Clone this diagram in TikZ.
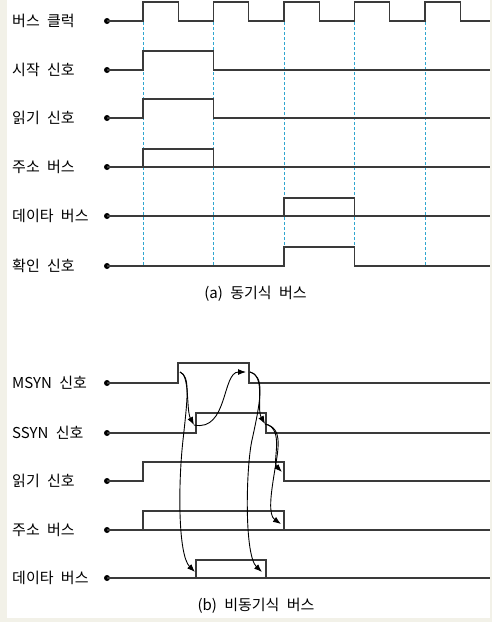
\documentclass[tikz,border=0pt]{standalone}
\usepackage{fontspec}
\setmainfont{Noto Sans CJK KR}[WordSpace=2.2]
\usetikzlibrary{arrows.meta}
\definecolor{wire}{HTML}{3A3A3A}
\definecolor{tick}{HTML}{2FA6D0}
\definecolor{frame}{HTML}{F2F1E8}

\begin{document}
\begin{tikzpicture}[x=1pt,y=-1pt,
    wave/.style={draw=wire,line width=1.1pt,line join=miter},
    pin/.style={circle,fill=black,inner sep=0pt,minimum size=6pt},
    lbl/.style={anchor=west,inner sep=0pt,font=\fontsize{15}{17}\selectfont},
    caption/.style={inner sep=0pt,font=\fontsize{15}{17}\selectfont},
    guide/.style={draw=tick,line width=1pt,dash pattern=on 3pt off 2pt},
    cause/.style={draw=black,line width=0.9pt,-{Latex[length=8pt,width=6pt]}}]

    % Frame and page size
    \fill[frame] (0,0) rectangle (492,622);
    \fill[white] (7,0) rectangle (490,618);
    \useasboundingbox (0,0) rectangle (492,622);

    % ---- (a) synchronous bus ----
    % Clock ticks
    \foreach \x in {143,213.5,284,354.5,425}
        \draw[guide] (\x,22) -- (\x,266);

    % Bus clock
    \node[lbl] (clkText) at (12,21) {버스 클럭};
    \node[pin] (clk) at (107,21) {};
    \draw[wave] (clk.center) -- (143,21)
        \foreach \k in {0,...,3} { -- ++(0,-19) -- ++(35.25,0) -- ++(0,19) -- ++(35.25,0) }
        -- ++(0,-19) -- ++(35.25,0) -- ++(0,19) -- (490,21);

    % Start signal
    \node[lbl] (startText) at (12,70) {시작 신호};
    \node[pin] (start) at (107,70) {};
    \draw[wave] (start.center) -- (143,70) -- (143,51) -- (213.5,51) -- (213.5,70) -- (490,70);

    % Read signal
    \node[lbl] (readText) at (12,118) {읽기 신호};
    \node[pin] (read) at (107,118) {};
    \draw[wave] (read.center) -- (143,118) -- (143,99) -- (213.5,99) -- (213.5,118) -- (490,118);

    % Address bus
    \node[lbl] (addrText) at (12,167) {주소 버스};
    \node[pin] (addr) at (107,167) {};
    \draw[wave] (addr.center) -- (490,167);
    \draw[wave] (143,167) rectangle (213.5,149);

    % Data bus
    \node[lbl] (dataText) at (12,216) {데이타 버스};
    \node[pin] (data) at (107,216) {};
    \draw[wave] (data.center) -- (490,216);
    \draw[wave] (284,216) rectangle (354.5,198);

    % Acknowledge signal
    \node[lbl] (ackText) at (12,266) {확인 신호};
    \node[pin] (ack) at (107,266) {};
    \draw[wave] (ack.center) -- (284,266) -- (284,247) -- (354.5,247) -- (354.5,266) -- (490,266);

    \node[caption] (capA) at (255.5,294) {(a) 동기식 버스};

    % ---- (b) asynchronous bus ----
    % MSYN
    \node[lbl] (msynText) at (12,383) {MSYN 신호};
    \node[pin] (msyn) at (107,383) {};
    \draw[wave] (msyn.center) -- (178,383) -- (178,363) -- (249,363) -- (249,383) -- (490,383);

    % SSYN
    \node[lbl] (ssynText) at (12,433) {SSYN 신호};
    \node[pin] (ssyn) at (107,433) {};
    \draw[wave] (ssyn.center) -- (196,433) -- (196,413) -- (266,413) -- (266,433) -- (490,433);

    % Read signal
    \node[lbl] (rdText) at (12,481) {읽기 신호};
    \node[pin] (rd) at (107,481) {};
    \draw[wave] (rd.center) -- (143,481) -- (143,462) -- (284,462) -- (284,481) -- (490,481);

    % Address bus
    \node[lbl] (abusText) at (12,530) {주소 버스};
    \node[pin] (abus) at (107,530) {};
    \draw[wave] (abus.center) -- (490,530);
    \draw[wave] (143,530) rectangle (284,511);

    % Data bus
    \node[lbl] (dbusText) at (12,578) {데이타 버스};
    \node[pin] (dbus) at (107,578) {};
    \draw[wave] (dbus.center) -- (490,578);
    \draw[wave] (196,578) rectangle (266,560);

    \node[caption] (capB) at (256,606) {(b) 비동기식 버스};

    % Handshake points
    \coordinate (msynUp) at (180,372);
    \coordinate (msynDown) at (250,372);
    \coordinate (ssynUp) at (194,425);
    \coordinate (ssynDown) at (265,424);
    \coordinate (msynEnd) at (246,372);
    \coordinate (rdDown) at (282,472);
    \coordinate (abusEnd) at (281,524);
    \coordinate (dbusStart) at (195,572);
    \coordinate (dbusEnd) at (262,572);

    % Handshake arrows
    \draw[cause] (msynUp) .. controls (190,375) and (186,410) .. (ssynUp);
    \draw[cause] (msynUp) .. controls (190,376) and (188,395) .. (183,440)
        .. controls (178,485) and (178,555) .. (dbusStart);
    \draw[cause] (ssynUp) .. controls (228,432) and (222,372) .. (msynEnd);
    \draw[cause] (msynDown) .. controls (266,376) and (256,408) .. (ssynDown);
    \draw[cause] (msynDown) .. controls (264,376) and (262,395) .. (252,440)
        .. controls (246,467) and (244,555) .. (dbusEnd);
    \draw[cause] (ssynDown) .. controls (285,428) and (272,462) .. (rdDown);
    \draw[cause] (ssynDown) .. controls (284,428) and (278,450) .. (274,475)
        .. controls (271,494) and (268,515) .. (abusEnd);
\end{tikzpicture}
\end{document}
